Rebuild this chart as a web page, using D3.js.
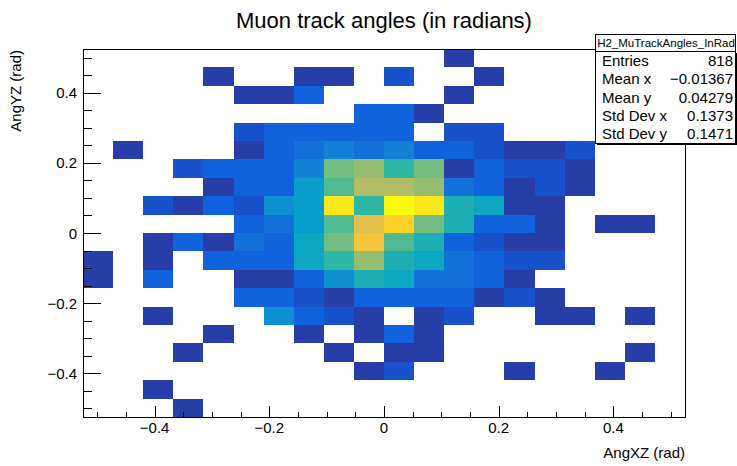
<!DOCTYPE html>
<html>
<head>
<meta charset="utf-8">
<script src="https://cdn.jsdelivr.net/npm/d3@7"></script>
<style>
  body { margin: 0; background: #fff; }
  svg { display: block; font-family: "Liberation Sans", Arial, Helvetica, sans-serif; }
</style>
</head>
<body>
<svg id="chart" width="737" height="466"></svg>
<script>
const title = "Muon track angles (in radians)";
const xTitle = "AngXZ (rad)";
const yTitle = "AngYZ (rad)";
const xRange = [-0.525, 0.525];
const yRange = [-0.525, 0.525];
const majorTicks = [-0.4, -0.2, 0, 0.2, 0.4];
const statsName = "H2_MuTrackAngles_InRad";
const statsLabels = ["Entries", "Mean x", "Mean y", "Std Dev x", "Std Dev y"];
const statsValues = ["818", "\u22120.01367", "0.04279", "0.1373", "0.1471"];

// bin contents, one row per AngYZ bin from top (+0.5) to bottom (-0.5),
// 20 AngXZ bins per row from left to right
const counts = [
  [0,0,0,0,0,0,0,0,0,0,0,0,1,0,0,0,0,0,0,0],
  [0,0,0,0,1,0,0,1,1,0,2,0,0,1,0,0,0,0,0,0],
  [0,0,0,0,0,1,1,3,0,0,0,0,1,0,0,0,0,0,0,0],
  [0,0,0,0,0,0,0,0,0,3,3,1,0,0,0,0,0,0,0,0],
  [0,0,0,0,0,2,3,3,3,3,3,0,2,2,0,0,0,0,0,0],
  [0,1,0,0,0,1,3,4,5,4,5,3,3,2,1,1,2,0,0,0],
  [0,0,0,2,3,3,3,5,12,13,10,12,1,3,2,2,1,0,0,0],
  [0,0,0,0,1,3,3,7,11,14,14,13,4,3,1,2,1,0,0,0],
  [0,0,2,1,3,2,6,7,19,10,21,19,9,8,1,1,0,0,0,0],
  [0,0,0,0,0,3,4,7,11,16,18,12,9,3,3,1,0,1,1,0],
  [0,0,1,3,1,4,3,8,12,17,11,9,3,2,1,1,0,0,0,0],
  [1,0,1,0,3,3,3,8,10,13,9,8,4,3,2,2,0,0,0,0],
  [1,0,3,0,0,1,1,3,6,9,8,4,4,3,1,0,0,0,0,0],
  [0,0,0,0,0,3,3,2,1,3,3,3,3,1,2,1,0,0,0,0],
  [0,0,1,0,0,0,6,3,2,1,0,1,2,0,0,1,1,0,1,0],
  [0,0,0,0,1,0,0,1,0,1,3,1,0,0,0,0,0,0,0,0],
  [0,0,0,1,0,0,0,0,1,0,1,1,0,0,0,0,0,0,1,0],
  [0,0,0,0,0,0,0,0,0,1,2,0,0,0,1,0,0,1,0,0],
  [0,0,1,0,0,0,0,0,0,0,0,0,0,0,0,0,0,0,0,0],
  [0,0,0,1,0,0,0,0,0,0,0,0,0,0,0,0,0,0,0,0]
];

// ROOT kBird palette stops
const birdStops = ["#352a87", "#0f5cdd", "#1481d6", "#06a4ca", "#2eb7a4",
                   "#87bf77", "#d1bb59", "#fec832", "#f9fb0e"];

const svg = d3.select("#chart");
const frame = { left: 83, right: 685, top: 49, bottom: 417 };

const x = d3.scaleLinear().domain(xRange).range([frame.left, frame.right]);
const y = d3.scaleLinear().domain(yRange).range([frame.bottom, frame.top]);

const nx = counts[0].length;
const ny = counts.length;
const xw = (xRange[1] - xRange[0]) / nx;
const yw = (yRange[1] - yRange[0]) / ny;

const bird = d3.scaleLinear()
  .domain(birdStops.map((d, i) => i / (birdStops.length - 1)))
  .range(birdStops)
  .interpolate(d3.interpolateRgb);

// 20 contour levels, 255 palette colours, like COLZ
const nContours = 20;
const zMax = d3.max(counts.flat());
function binColor(c) {
  let level = Math.floor(c * nContours / zMax);
  if (level >= nContours) level = nContours - 1;
  const idx = Math.floor((level + 0.99) * 255 / nContours);
  return bird(idx / 254);
}

const cells = [];
counts.forEach((row, j) => {
  row.forEach((c, i) => {
    if (c > 0) cells.push({ i, j, c });
  });
});

svg.append("g")
  .selectAll("rect")
  .data(cells)
  .join("rect")
  .attr("x", d => x(xRange[0] + d.i * xw))
  .attr("y", d => y(yRange[1] - d.j * yw))
  .attr("width", d => x(xRange[0] + (d.i + 1) * xw) - x(xRange[0] + d.i * xw))
  .attr("height", d => y(yRange[1] - (d.j + 1) * yw) - y(yRange[1] - d.j * yw))
  .attr("fill", d => binColor(d.c))
  .attr("shape-rendering", "crispEdges");

// frame
svg.append("rect")
  .attr("x", frame.left + 0.5)
  .attr("y", frame.top + 0.5)
  .attr("width", frame.right - frame.left)
  .attr("height", frame.bottom - frame.top)
  .attr("fill", "none")
  .attr("stroke", "#000")
  .attr("stroke-width", 1);

const fmt = d => d === 0 ? "0" : d3.format(".1f")(d).replace("-", "\u2212");
const isMajor = d => majorTicks.some(m => Math.abs(m - d) < 1e-9);

// x axis ticks (inward)
svg.append("g").attr("stroke", "#000").attr("shape-rendering", "crispEdges")
  .selectAll("line")
  .data(x.ticks(20))
  .join("line")
  .attr("x1", d => Math.round(x(d)) + 0.5)
  .attr("x2", d => Math.round(x(d)) + 0.5)
  .attr("y1", frame.bottom)
  .attr("y2", d => frame.bottom - (isMajor(d) ? 11 : 5.5));

svg.append("g")
  .selectAll("text")
  .data(majorTicks)
  .join("text")
  .attr("x", d => x(d))
  .attr("y", 433)
  .attr("text-anchor", "middle")
  .attr("font-size", 15)
  .attr("fill", "#000")
  .text(fmt);

// y axis ticks (inward)
svg.append("g").attr("stroke", "#000").attr("shape-rendering", "crispEdges")
  .selectAll("line")
  .data(y.ticks(20))
  .join("line")
  .attr("x1", frame.left)
  .attr("x2", d => frame.left + (isMajor(d) ? 18 : 9))
  .attr("y1", d => Math.round(y(d)) + 0.5)
  .attr("y2", d => Math.round(y(d)) + 0.5);

svg.append("g")
  .selectAll("text")
  .data(majorTicks)
  .join("text")
  .attr("x", 77)
  .attr("y", d => y(d) + 5.5)
  .attr("text-anchor", "end")
  .attr("font-size", 15)
  .attr("fill", "#000")
  .text(fmt);

// titles
svg.append("text")
  .attr("x", 384)
  .attr("y", 28)
  .attr("text-anchor", "middle")
  .attr("font-size", 22)
  .text(title);

svg.append("text")
  .attr("x", frame.right)
  .attr("y", 458)
  .attr("text-anchor", "end")
  .attr("font-size", 15)
  .text(xTitle);

svg.append("text")
  .attr("transform", `translate(21,${frame.top + 1}) rotate(-90)`)
  .attr("text-anchor", "end")
  .attr("font-size", 15)
  .text(yTitle);

// stats box
const stats = { left: 595, right: 735, top: 34, titleBottom: 51, bottom: 143 };
const statsG = svg.append("g").attr("shape-rendering", "crispEdges");
statsG.append("rect")
  .attr("x", stats.left + 1.5).attr("y", stats.titleBottom + 1.5)
  .attr("width", stats.right - stats.left).attr("height", stats.bottom - stats.titleBottom)
  .attr("fill", "#000");
statsG.append("rect")
  .attr("x", stats.left + 0.5).attr("y", stats.titleBottom + 0.5)
  .attr("width", stats.right - stats.left).attr("height", stats.bottom - stats.titleBottom)
  .attr("fill", "#fff").attr("stroke", "#000");
statsG.append("rect")
  .attr("x", stats.left + 0.5).attr("y", stats.top + 0.5)
  .attr("width", stats.right - stats.left).attr("height", stats.titleBottom - stats.top)
  .attr("fill", "#fff").attr("stroke", "#000");

svg.append("text")
  .attr("x", (stats.left + stats.right) / 2 + 1)
  .attr("y", stats.titleBottom - 4)
  .attr("text-anchor", "middle")
  .attr("font-size", 11.5)
  .text(statsName);

const rowH = (stats.bottom - stats.titleBottom) / statsLabels.length;
svg.append("g")
  .selectAll("text")
  .data(statsLabels)
  .join("text")
  .attr("x", stats.left + 7)
  .attr("y", (d, i) => stats.titleBottom + rowH * (i + 0.5) + 5.5)
  .attr("font-size", 15)
  .text(d => d);

svg.append("g")
  .selectAll("text")
  .data(statsValues)
  .join("text")
  .attr("x", stats.right - 2)
  .attr("y", (d, i) => stats.titleBottom + rowH * (i + 0.5) + 5.5)
  .attr("text-anchor", "end")
  .attr("font-size", 15)
  .text(d => d);
</script>
</body>
</html>
